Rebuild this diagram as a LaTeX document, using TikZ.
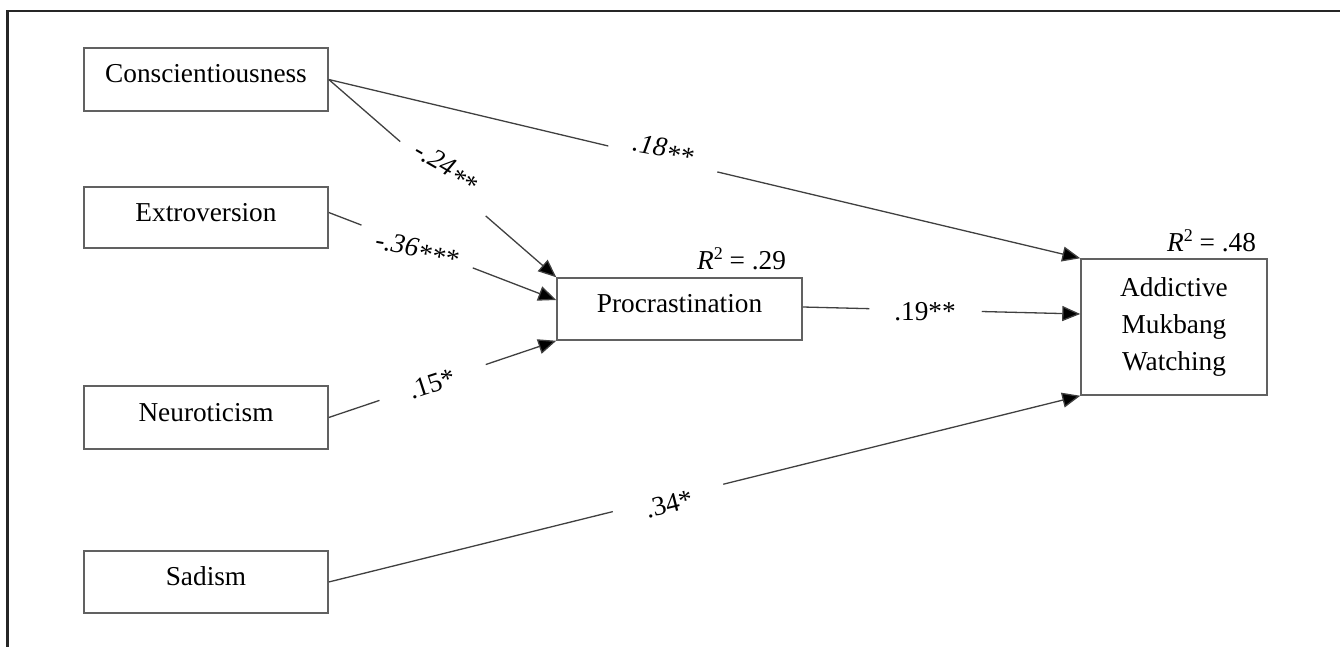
\documentclass[tikz,border=0pt]{standalone}
\usepackage{fontspec}
\setmainfont{Liberation Serif}
\usetikzlibrary{arrows.meta,calc}
\tikzset{
  box/.style={draw=black!62, line width=1.5pt, fill=white, inner sep=0pt, text height=20pt, text depth=13pt, font=\fontsize{27.3pt}{37pt}\selectfont},
  conn/.style={draw=black!75, line width=1.3pt},
  arr/.style={conn, -{Triangle[length=18pt,width=15pt,fill=black]}},
  lab/.style={inner sep=0pt, font=\fontsize{27.3pt}{32pt}\selectfont},
  frame/.style={draw=black!85, line width=2.2pt}
}
\newcommand{\rsq}[1]{\textit{R}\raisebox{0.33em}{\fontsize{18pt}{18pt}\selectfont 2} = #1}
\newcommand{\lowstar}{\raisebox{-0.2em}{*}}
\begin{document}
\begin{tikzpicture}[x=1pt,y=-1pt]
\useasboundingbox (0,0) rectangle (1340,647);
% frame
\coordinate (fa) at (7.5,647);
\coordinate (fb) at (7.5,10.7);
\coordinate (fc) at (1340,10.7);
\draw[frame] (fa) -- (fb) -- (fc);
% nodes
\node[box, minimum width=244pt, minimum height=63pt] (c) at (206,79.5) {Conscientiousness};
\node[box, minimum width=244pt, minimum height=61pt] (e) at (206,217.5) {Extroversion};
\node[box, minimum width=244pt, minimum height=63pt] (n) at (206,417.5) {Neuroticism};
\node[box, minimum width=244pt, minimum height=62pt] (s) at (206,582) {Sadism};
\node[box, minimum width=245pt, minimum height=62pt] (p) at (679.5,309) {Procrastination};
\node[box, minimum width=186pt, minimum height=136pt, align=center, text height=, text depth=] (a) at (1174,327) {Addictive\\Mukbang\\Watching};
% R^2 labels
\node[lab, anchor=base west] (r29) at (697,269) {\rsq{.29}};
\node[lab, anchor=base west] (r48) at (1167,251) {\rsq{.48}};
% anchor points
\coordinate (pe) at ([yshift=9pt]p.west);
\coordinate (ps) at ([yshift=2pt]p.east);
\coordinate (am) at ([yshift=13pt]a.west);
\coordinate (ce) at ([yshift=0pt]c.east);
\coordinate (ee) at ([yshift=5pt]e.east);
% gap coordinates
\coordinate (g1a) at ($(ce)!0.372!(a.north west)$);
\coordinate (g1b) at ($(ce)!0.517!(a.north west)$);
\coordinate (g2a) at ($(ce)!0.314!(p.north west)$);
\coordinate (g2b) at ($(ce)!0.690!(p.north west)$);
\coordinate (g3a) at ($(ee)!0.144!(pe)$);
\coordinate (g3b) at ($(ee)!0.633!(pe)$);
\coordinate (g4a) at ($(n.east)!0.223!(p.south west)$);
\coordinate (g4b) at ($(n.east)!0.690!(p.south west)$);
\coordinate (g5a) at ($(ps)!0.240!(am)$);
\coordinate (g5b) at ($(ps)!0.645!(am)$);
\coordinate (g6a) at ($(s.east)!0.378!(a.south west)$);
\coordinate (g6b) at ($(s.east)!0.525!(a.south west)$);
% connectors
\draw[conn] (ce) -- (g1a);
\draw[arr] (g1b) -- (a.north west);
\draw[conn] (ce) -- (g2a);
\draw[arr] (g2b) -- (p.north west);
\draw[conn] (ee) -- (g3a);
\draw[arr] (g3b) -- (pe);
\draw[conn] (n.east) -- (g4a);
\draw[arr] (g4b) -- (p.south west);
\draw[conn] (ps) -- (g5a);
\draw[arr] (g5b) -- (am);
\draw[conn] (s.east) -- (g6a);
\draw[arr] (g6b) -- (a.south west);
% coefficient labels
\node[lab, rotate=-10] (l18) at (663,150) {\textit{.18\lowstar\lowstar}};
\node[lab, rotate=-30] (l24) at (446,168) {\textit{-.24\lowstar\lowstar}};
\node[lab, rotate=-10] (l36) at (417,250) {\textit{-.36\lowstar\lowstar\lowstar}};
\node[lab, rotate=18] (l15) at (432,384) {.15*};
\node[lab] (l19) at (925,312) {.19**};
\node[lab, rotate=14] (l34) at (669,504) {.34*};
\end{tikzpicture}
\end{document}
